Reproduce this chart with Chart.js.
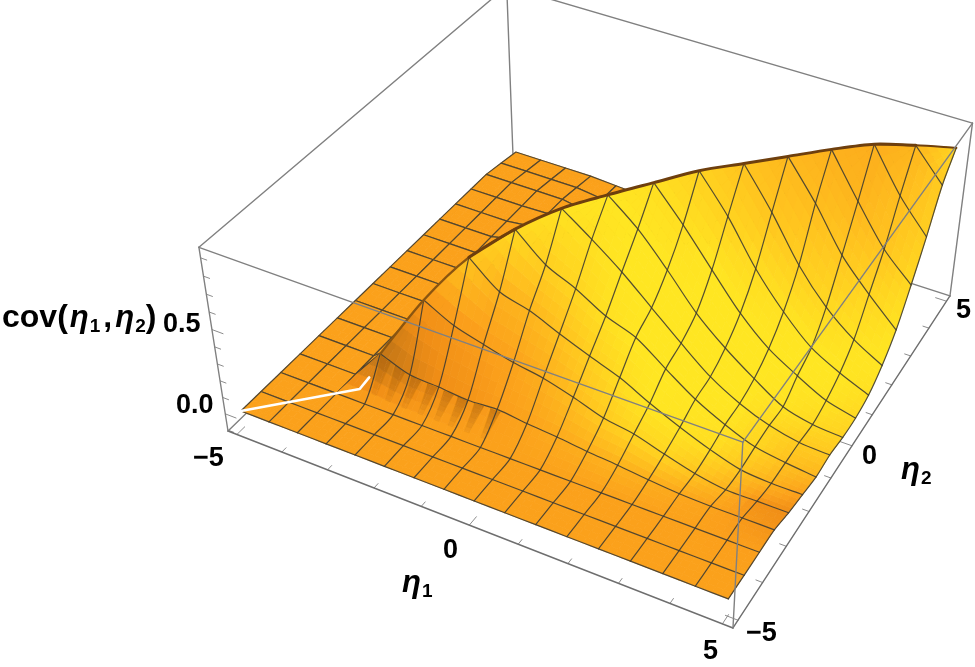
<!DOCTYPE html>
<html>
<head>
<meta charset="utf-8">
<title>cov(η1, η2)</title>
<script src="https://cdn.jsdelivr.net/npm/chart.js@4"></script>
<style>
    html, body { margin: 0; background: #fff; }
    #wrap { width: 975px; height: 667px; }
</style>
</head>
<body>
<div id="wrap"><canvas id="surface" width="975" height="667"></canvas></div>
<script>
// mesh nodes, same for both axes (15 mesh lines, 16 cells)
const etaNodes = [-5, -4.375, -3.75, -3.125, -2.5, -1.875, -1.25, -0.625, 0, 0.625, 1.25, 1.875, 2.5, 3.125, 3.75, 4.375, 5];
const etaTicks = [-5, -4, -3, -2, -1, 0, 1, 2, 3, 4, 5];
const etaMajor = [-5, 0, 5];
const covTicks = [-0.1, 0, 0.1, 0.2, 0.3, 0.4, 0.5, 0.6, 0.7, 0.8, 0.9];
const covMajor = [0, 0.5];

// cov(eta1, eta2): one row per eta2 node, one column per eta1 node
const covRows = [
    [0, 0, 0, 0, 0, 0, 0, 0, 0, 0, 0, 0, 0, 0, 0, 0, 0],
    [0, 0, 0, 0, 0, 0, 0, 0, 0, 0, 0, 0, 0, 0, 0, 0, 0],
    [0, 0, 0, 0, 0, 0, 0, 0, 0, 0, 0, 0, 0, 0, 0, 0, 0],
    [0, 0, 0, 0.19, 0.125, 0.115, 0.1, 0.11, 0.09, 0.075, 0.055, 0.04, 0.02, 0.005, 0, 0, 0],
    [0, 0, 0, 0.125, 0.46, 0.37, 0.32, 0.275, 0.245, 0.195, 0.135, 0.105, 0.05, 0, -0.03, -0.03, -0.03],
    [0, 0, 0, 0.115, 0.37, 0.66, 0.52, 0.47, 0.395, 0.325, 0.26, 0.17, 0.09, 0.02, -0.035, -0.05, -0.05],
    [0, 0, 0, 0.1, 0.32, 0.52, 0.776, 0.63, 0.55, 0.45, 0.385, 0.26, 0.14, 0.05, -0.02, -0.05, -0.07],
    [0, 0, 0, 0.11, 0.275, 0.47, 0.63, 0.85, 0.73, 0.6, 0.45, 0.3, 0.16, 0.06, -0.01, -0.05, -0.06],
    [0, 0, 0, 0.09, 0.245, 0.395, 0.55, 0.73, 0.883, 0.745, 0.565, 0.37, 0.22, 0.095, -0.015, -0.06, -0.075],
    [0, 0, 0, 0.075, 0.195, 0.325, 0.45, 0.6, 0.745, 0.91, 0.725, 0.52, 0.32, 0.165, 0.06, -0.03, -0.075],
    [0, 0, 0, 0.055, 0.135, 0.26, 0.385, 0.45, 0.565, 0.725, 0.936, 0.73, 0.48, 0.28, 0.12, 0.025, -0.05],
    [0, 0, 0, 0.04, 0.105, 0.17, 0.26, 0.3, 0.37, 0.52, 0.73, 0.936, 0.71, 0.455, 0.26, 0.12, 0.02],
    [0, 0, 0, 0.02, 0.05, 0.09, 0.14, 0.16, 0.22, 0.32, 0.48, 0.71, 0.936, 0.72, 0.47, 0.29, 0.13],
    [0, 0, 0, 0.005, 0, 0.02, 0.05, 0.06, 0.095, 0.165, 0.28, 0.455, 0.72, 0.936, 0.69, 0.46, 0.3],
    [0, 0, 0, 0, -0.03, -0.035, -0.02, -0.01, -0.015, 0.06, 0.12, 0.26, 0.47, 0.69, 0.926, 0.68, 0.49],
    [-0.02, -0.02, -0.02, -0.02, -0.04, -0.05, -0.05, -0.05, -0.06, -0.03, 0.025, 0.12, 0.29, 0.46, 0.68, 0.88, 0.7],
    [-0.04, -0.04, -0.04, -0.04, -0.05, -0.06, -0.07, -0.06, -0.075, -0.075, -0.05, 0.02, 0.13, 0.3, 0.49, 0.7, 0.826],
];

// surface lighting per node: -0.5 dark brown, 0 orange, 1 bright yellow
const glowRows = [
    [0.03, 0.03, 0.03, 0.03, 0.03, 0.03, 0.03, 0.03, 0.03, 0.03, 0.03, 0.03, 0.03, 0.03, 0.03, 0.03, 0.03],
    [0.03, 0.03, 0.03, 0.03, 0.03, 0.03, 0.03, 0.03, 0.03, 0.03, 0.03, 0.03, 0.03, 0.03, 0.03, 0.03, 0.03],
    [0.03, 0.03, 0.03, 0.03, 0.03, 0.03, 0.03, 0.03, 0.03, 0.03, 0.03, 0.03, 0.03, 0.03, 0.03, 0, 0],
    [0.03, 0.03, 0.03, -0.45, -0.3, -0.15, -0.1, -0.02, 0.05, 0.15, 0.2, 0.25, 0.2, 0.12, 0.05, -0.05, -0.1],
    [0.03, 0.03, 0.03, 0.03, -0.1, -0.08, -0.02, 0.05, 0.2, 0.4, 0.6, 0.75, 0.75, 0.5, 0.25, -0.12, -0.15],
    [0.03, 0.03, 0.03, 0.03, 0.03, 0.5, 0.25, 0.3, 0.45, 0.65, 0.85, 1, 0.95, 0.85, 0.5, 0.25, 0],
    [0.03, 0.03, 0.03, 0.03, 0.03, 0.03, 0.8, 0.65, 0.75, 0.9, 1, 1, 1, 0.95, 0.75, 0.45, 0.3],
    [0.03, 0.03, 0.03, 0.03, 0.03, 0.03, 0.03, 0.95, 0.9, 1, 1, 1, 1, 1, 0.8, 0.6, 0.55],
    [0.03, 0.03, 0.03, 0.03, 0.03, 0.03, 0.03, 0.03, 1, 1, 1, 1, 1, 1, 0.95, 0.8, 0.7],
    [0.03, 0.03, 0.03, 0.03, 0.03, 0.03, 0.03, 0.03, 0.03, 0.9, 0.9, 1, 1, 1, 1, 0.95, 0.8],
    [0.03, 0.03, 0.03, 0.03, 0.03, 0.03, 0.03, 0.03, 0.03, 0.03, 0.7, 0.7, 0.85, 0.95, 1, 1, 0.9],
    [0.03, 0.03, 0.03, 0.03, 0.03, 0.03, 0.03, 0.03, 0.03, 0.03, 0.03, 0.5, 0.5, 0.65, 0.8, 0.95, 1],
    [0.03, 0.03, 0.03, 0.03, 0.03, 0.03, 0.03, 0.03, 0.03, 0.03, 0.03, 0.03, 0.35, 0.4, 0.55, 0.75, 0.95],
    [0.03, 0.03, 0.03, 0.03, 0.03, 0.03, 0.03, 0.03, 0.03, 0.03, 0.03, 0.03, 0.03, 0.25, 0.3, 0.5, 0.8],
    [0.03, 0.03, 0.03, 0.03, 0.03, 0.03, 0.03, 0.03, 0.03, 0.03, 0.03, 0.03, 0.03, 0.03, 0.2, 0.4, 0.65],
    [0.03, 0.03, 0.03, 0.03, 0.03, 0.03, 0.03, 0.03, 0.03, 0.03, 0.03, 0.03, 0.03, 0.03, 0.03, 0.3, 0.6],
    [0.03, 0.03, 0.03, 0.03, 0.03, 0.03, 0.03, 0.03, 0.03, 0.03, 0.03, 0.03, 0.03, 0.03, 0.03, 0.03, 0.75],
];

// dark runs down the foot of the fold, at these eta1 values
const streakEta1 = [-3.0, -2.7, -2.35, -2.0, -1.65, -1.35, -1.0, -0.65];
const streakReach = [0.06, 0.14, 0.22, 0.3, 0.38, 0.46];

// the white seam along the flat start of the diagonal
const seamEta = [-5, -3.44, -3.3];
const seamCov = [0, 0, 0.06];

// box limits
const ETA_MIN = -5.2, ETA_MAX = 5.2;
const COV_MIN = -0.106, COV_MAX = 0.957;

// projective camera: unit box coordinates to pixels
const CAM = {
    x: [228, 442.9, 386.4, -43],
    y: [431, 143.8, -245.4, -201],
    d: [1, -0.0847, 0.1977, -0.07],
};

const GLOW_STOPS = [
    [-0.5, [180, 110, 22]],
    [-0.15, [240, 142, 22]],
    [0, [251, 159, 27]],
    [0.5, [255, 196, 31]],
    [1, [255, 230, 34]],
];

const MESH_COLOR = "rgba(60, 58, 50, 0.88)";
const BOX_COLOR = "#808080";
const TICK_COLOR = "#8c8c8c";
const STREAK_COLOR = "rgba(176, 104, 20, 0.11)";

function unit(v, lo, hi) {
    return (v - lo) / (hi - lo);
}

function project(eta1, eta2, cov) {
    const u = unit(eta1, ETA_MIN, ETA_MAX);
    const v = unit(eta2, ETA_MIN, ETA_MAX);
    const w = unit(cov, COV_MIN, COV_MAX);
    const d = CAM.d[0] + CAM.d[1] * u + CAM.d[2] * v + CAM.d[3] * w;
    return {
        x: (CAM.x[0] + CAM.x[1] * u + CAM.x[2] * v + CAM.x[3] * w) / d,
        y: (CAM.y[0] + CAM.y[1] * u + CAM.y[2] * v + CAM.y[3] * w) / d,
        d: d,
    };
}

function nodePoint(k, i) {
    return project(etaNodes[i], etaNodes[k], covRows[k][i]);
}

function glowColor(g) {
    let i = 0;
    while (i < GLOW_STOPS.length - 2 && g > GLOW_STOPS[i + 1][0]) i++;
    const [g0, c0] = GLOW_STOPS[i];
    const [g1, c1] = GLOW_STOPS[i + 1];
    const t = Math.min(1, Math.max(0, (g - g0) / (g1 - g0)));
    const c = c0.map((v, n) => Math.round(v + (c1[n] - v) * t));
    return `rgb(${c[0]}, ${c[1]}, ${c[2]})`;
}

function lineSet(points, color, width, tension) {
    return {
        data: points.map((p) => ({x: p.x, y: p.y})),
        showLine: true,
        fill: false,
        borderColor: color,
        borderWidth: width,
        pointRadius: 0,
        tension: tension || 0,
        borderCapStyle: "round",
        borderJoinStyle: "round",
    };
}

function patchSet(points, color, width) {
    const set = lineSet(points.concat([points[0]]), color, width);
    set.fill = "shape";
    set.backgroundColor = color;
    return set;
}

// a mesh patch is four node references [row, column]; the cells on the
// diagonal are split in two so the fold stays sharp
function patchAt(patch, a, b) {
    const mix = (get) => {
        const [n00, n10, n11, n01] = patch.map(([k, i]) => get(k, i));
        return (n00 * (1 - a) + n10 * a) * (1 - b) + (n01 * (1 - a) + n11 * a) * b;
    };
    return {
        eta1: mix((k, i) => etaNodes[i]),
        eta2: mix((k, i) => etaNodes[k]),
        cov: mix((k, i) => covRows[k][i]),
        glow: mix((k, i) => glowRows[k][i]),
    };
}

function patchPoint(patch, a, b) {
    const p = patchAt(patch, a, b);
    return project(p.eta1, p.eta2, p.cov);
}

function patchSets(patch) {
    const steps = 4;
    const sets = [];
    for (let bs = 0; bs < steps; bs++) {
        for (let as = 0; as < steps; as++) {
            const a0 = as / steps, a1 = (as + 1) / steps;
            const b0 = bs / steps, b1 = (bs + 1) / steps;
            const g = patchAt(patch, (a0 + a1) / 2, (b0 + b1) / 2).glow;
            sets.push(patchSet([
                patchPoint(patch, a0, b0),
                patchPoint(patch, a1, b0),
                patchPoint(patch, a1, b1),
                patchPoint(patch, a0, b1),
            ], glowColor(g), 0.8));
        }
    }
    // the part behind the fold keeps its mesh in the depth order,
    // the front part gets long smooth lines afterwards
    const behind = patch[1][0] > patch[0][0] || patch[0][0] > patch[0][1];
    if (behind) {
        const n00 = patchPoint(patch, 0, 0), n10 = patchPoint(patch, 1, 0);
        const n11 = patchPoint(patch, 1, 1), n01 = patchPoint(patch, 0, 1);
        const triangle = patch[2][0] === patch[3][0] && patch[2][1] === patch[3][1];
        sets.push(lineSet(triangle ? [n00, n10, n11] : [n00, n10, n11, n01, n00], MESH_COLOR, 1.2));
    }
    return sets;
}

function surfaceSets() {
    const patches = [];
    for (let k = 0; k < etaNodes.length - 1; k++) {
        for (let i = 0; i < etaNodes.length - 1; i++) {
            if (k === i) {
                patches.push([[k, i], [k, i + 1], [k + 1, i + 1], [k + 1, i + 1]]);
                patches.push([[k, i], [k + 1, i], [k + 1, i + 1], [k + 1, i + 1]]);
            } else {
                patches.push([[k, i], [k, i + 1], [k + 1, i + 1], [k + 1, i]]);
            }
        }
    }
    // far patches first
    const depth = (patch) => patchPoint(patch, 0.5, 0.5).d;
    patches.sort((p, q) => depth(q) - depth(p));
    return patches.flatMap(patchSets);
}

function frontMeshSets() {
    const sets = [];
    const count = etaNodes.length;
    for (let k = 0; k < count - 1; k++) {
        const pts = [];
        for (let i = k; i < count; i++) pts.push(nodePoint(k, i));
        sets.push(lineSet(pts, MESH_COLOR, 1.2, 0.3));
    }
    for (let i = 1; i < count; i++) {
        const pts = [];
        for (let k = 0; k <= i; k++) pts.push(nodePoint(k, i));
        sets.push(lineSet(pts, MESH_COLOR, 1.2, 0.3));
    }
    return sets;
}

function covAt(eta1, eta2) {
    const step = etaNodes[1] - etaNodes[0];
    const i = Math.floor((eta1 - etaNodes[0]) / step);
    const k = Math.floor((eta2 - etaNodes[0]) / step);
    const a = (eta1 - etaNodes[i]) / step, b = (eta2 - etaNodes[k]) / step;
    return (covRows[k][i] * (1 - a) + covRows[k][i + 1] * a) * (1 - b) +
        (covRows[k + 1][i] * (1 - a) + covRows[k + 1][i + 1] * a) * b;
}

function streakSets() {
    const top = etaNodes[3] - 0.02;
    const sets = [];
    streakEta1.forEach((e) => {
        streakReach.forEach((reach) => {
            const on = (e1, e2) => project(e1, e2, covAt(e1, e2));
            sets.push(patchSet([
                on(e - 0.1, top),
                on(e + 0.1, top),
                on(e + 0.05, top - reach),
                on(e - 0.05, top - reach),
            ], STREAK_COLOR, 0.6));
        });
    });
    return sets;
}

function edge(a, b, color, width) {
    return lineSet([project(a[0], a[1], a[2]), project(b[0], b[1], b[2])], color || BOX_COLOR, width || 1.4);
}

function backEdges() {
    const L = ETA_MIN, H = ETA_MAX, B = COV_MIN, T = COV_MAX;
    return [
        edge([L, L, B], [L, H, B]),
        edge([L, H, B], [H, H, B]),
        edge([L, H, B], [L, H, T]),
        edge([L, L, T], [L, H, T]),
        edge([L, H, T], [H, H, T]),
    ];
}

function frontEdges() {
    const L = ETA_MIN, H = ETA_MAX, B = COV_MIN, T = COV_MAX;
    return [
        edge([L, L, B], [H, L, B], "#6e6e6e"),
        edge([H, L, B], [H, H, B], "#6e6e6e"),
        edge([L, L, B], [L, L, T]),
        edge([H, H, B], [H, H, T]),
        edge([H, L, B], [H, L, T]),
        edge([L, L, T], [H, L, T]),
        edge([H, L, T], [H, H, T]),
    ];
}

function tickSets() {
    const L = ETA_MIN, H = ETA_MAX, B = COV_MIN;
    const sets = [];
    etaTicks.forEach((t) => {
        const len = etaMajor.includes(t) ? 0.24 : 0.13;
        sets.push(edge([t, L, B], [t, L + len, B], TICK_COLOR, 1));
        sets.push(edge([H, t, B], [H - len, t, B], TICK_COLOR, 1));
    });
    covTicks.forEach((t) => {
        const len = covMajor.includes(t) ? 0.24 : 0.13;
        sets.push(edge([L, L, t], [L + len, L, t], TICK_COLOR, 1));
    });
    return sets;
}

// the rim of the fold: thin at its foot, heavy further up
function ridgeSets() {
    const run = (from, to, color, width) => {
        const pts = [];
        for (let n = from; n <= to; n++) pts.push(nodePoint(n, n));
        return lineSet(pts, color, width, 0.3);
    };
    return [run(3, 6, "#8a5510", 2.4), run(5, 15, "#6e3f0e", 3), run(14, 16, "#6e3f0e", 2)];
}

function seamSet() {
    const pts = seamEta.map((e, n) => project(e, e, seamCov[n]));
    return lineSet(pts, "#ffffff", 2.6);
}

// axis text, laid out as runs: text, font, drop below the baseline, gap after
const TICK_FONT = "bold 27px 'Liberation Sans', Arial, sans-serif";
const LABEL_FONT = "bold 32px 'Liberation Sans', Arial, sans-serif";
const ETA_FONT = "italic bold 31px 'Liberation Sans', Arial, sans-serif";
const SUB_FONT = "bold 19px 'Liberation Sans', Arial, sans-serif";

const axisText = [
    {x: 2, y: 327, runs: [["cov(", LABEL_FONT, 0, 2], ["η", ETA_FONT, 0, 1], ["1", SUB_FONT, 5, 3], [",", LABEL_FONT, 0, 3], ["η", ETA_FONT, 0, 1], ["2", SUB_FONT, 5, 0], [")", LABEL_FONT]]},
    {x: 163, y: 332, runs: [["0.5", TICK_FONT]]},
    {x: 176, y: 413, runs: [["0.0", TICK_FONT]]},
    {x: 193, y: 466, runs: [["−5", TICK_FONT]]},
    {x: 443, y: 558, runs: [["0", TICK_FONT]]},
    {x: 703, y: 659, runs: [["5", TICK_FONT]]},
    {x: 402, y: 592, runs: [["η", ETA_FONT, 0, 1], ["1", SUB_FONT, 5]]},
    {x: 746, y: 641, runs: [["−5", TICK_FONT]]},
    {x: 862, y: 464, runs: [["0", TICK_FONT]]},
    {x: 956, y: 318, runs: [["5", TICK_FONT]]},
    {x: 901, y: 479, runs: [["η", ETA_FONT, 0, 1], ["2", SUB_FONT, 5]]},
];

const axisTextPlugin = {
    id: "axisText",
    afterDraw(chart) {
        const ctx = chart.ctx;
        ctx.save();
        ctx.fillStyle = "#000";
        ctx.textBaseline = "alphabetic";
        axisText.forEach((item) => {
            let x = item.x;
            item.runs.forEach(([text, font, drop, gap]) => {
                ctx.font = font;
                ctx.fillText(text, x, item.y + (drop || 0));
                x += ctx.measureText(text).width + (gap || 0);
            });
        });
        ctx.restore();
    },
};

// listed in paint order; chart.js paints the highest order first
const datasets = [
    ...backEdges(),
    ...tickSets(),
    ...surfaceSets(),
    ...streakSets(),
    ...frontMeshSets(),
    ...ridgeSets(),
    seamSet(),
    ...frontEdges(),
];
datasets.forEach((set, n) => {
    set.order = datasets.length - n;
    set.parsing = false;
    set.normalized = true;
});

new Chart(document.getElementById("surface"), {
    type: "scatter",
    data: {datasets: datasets},
    options: {
        responsive: false,
        animation: false,
        events: [],
        layout: {padding: 0},
        plugins: {legend: {display: false}, tooltip: {enabled: false}},
        scales: {
            x: {type: "linear", min: 0, max: 975, display: false},
            y: {type: "linear", min: 0, max: 667, reverse: true, display: false},
        },
    },
    plugins: [axisTextPlugin],
});
</script>
</body>
</html>
